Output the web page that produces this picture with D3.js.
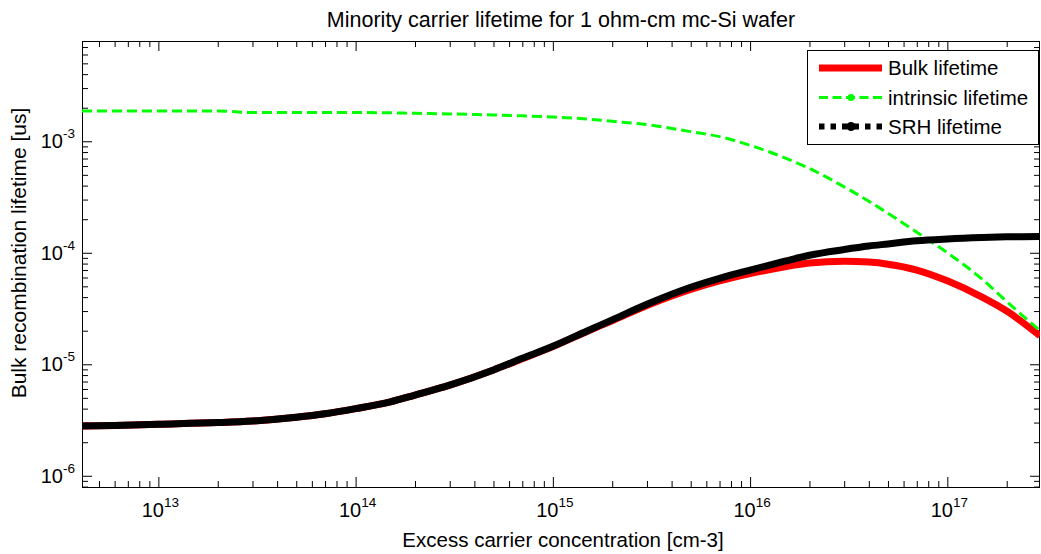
<!DOCTYPE html>
<html>
<head>
<meta charset="utf-8">
<script src="https://cdn.jsdelivr.net/npm/d3@7"></script>
<style>
body { margin: 0; background: #fff; }
svg text { font-family: "Liberation Sans", Arial, sans-serif; fill: #000; }
</style>
</head>
<body>
<svg id="chart" width="1041" height="554"></svg>
<script>
// excess carrier concentration [cm-3]
var carrierConc = [4.1e12, 6e12, 1e13, 2e13, 3e13, 5e13, 7e13, 1e14, 1.5e14, 2e14, 3e14, 5e14, 7e14,
    1e15, 1.5e15, 2e15, 3e15, 5e15, 7e15, 1e16, 1.5e16, 2e16, 3e16, 4e16, 5e16, 7e16, 1e17, 1.5e17, 2e17, 2.95e17]
// lifetimes [us]
var bulkLifetime = [2.8e-6, 2.83e-6, 2.9e-6, 3.0e-6, 3.1e-6, 3.35e-6, 3.6e-6, 4.0e-6, 4.6e-6, 5.3e-6, 6.5e-6, 8.9e-6, 1.12e-5,
    1.44e-5, 1.98e-5, 2.46e-5, 3.37e-5, 4.7e-5, 5.6e-5, 6.5e-5, 7.5e-5, 8.1e-5, 8.4e-5, 8.25e-5, 7.9e-5, 7.0e-5, 5.6e-5, 4.0e-5, 3.0e-5, 1.8e-5]
var intrinsicLifetime = [1.87e-3, 1.87e-3, 1.87e-3, 1.87e-3, 1.81e-3, 1.81e-3, 1.81e-3, 1.81e-3, 1.80e-3, 1.78e-3, 1.76e-3, 1.72e-3, 1.69e-3,
    1.65e-3, 1.58e-3, 1.51e-3, 1.41e-3, 1.22e-3, 1.1e-3, 9.2e-4, 7.1e-4, 5.7e-4, 3.9e-4, 2.9e-4, 2.26e-4, 1.53e-4, 1.0e-4, 5.8e-5, 3.65e-5, 2.0e-5]
var srhLifetime = [2.8e-6, 2.83e-6, 2.9e-6, 3.0e-6, 3.1e-6, 3.35e-6, 3.6e-6, 4.0e-6, 4.6e-6, 5.3e-6, 6.5e-6, 8.9e-6, 1.13e-5,
    1.45e-5, 2.0e-5, 2.5e-5, 3.45e-5, 4.9e-5, 5.9e-5, 7.0e-5, 8.4e-5, 9.5e-5, 1.07e-4, 1.15e-4, 1.2e-4, 1.28e-4, 1.33e-4, 1.37e-4, 1.39e-4, 1.4e-4]

var xMajor = [1e13, 1e14, 1e15, 1e16, 1e17]
var xExp = ['13', '14', '15', '16', '17']
var yMajor = [1e-6, 1e-5, 1e-4, 1e-3]
var yExp = ['-6', '-5', '-4', '-3']
var seriesNames = ['Bulk lifetime', 'intrinsic lifetime', 'SRH lifetime']

var W = 1041, H = 554
var margin = {'left': 82, 'right': 1, 'top': 41, 'bottom': 67}
var plotW = W - margin.left - margin.right
var plotH = H - margin.top - margin.bottom

var svg = d3.select('#chart')
var g = svg.append('g').attr('transform', 'translate(' + margin.left + ',' + margin.top + ')')

var xScale = d3.scaleLog().domain([4.1e12, 2.95e17]).range([0, plotW])
var yScale = d3.scaleLog().domain([7.93e-7, 7.93e-3]).range([plotH, 0])

// minor ticks: 2..9 times each decade, inside the domain
function minorTicks(scale) {
    var d = scale.domain(), out = []
    var lo = Math.floor(Math.log10(d[0])), hi = Math.ceil(Math.log10(d[1]))
    for (var e = lo; e <= hi; e++) {
        for (var m = 2; m <= 9; m++) {
            var v = m * Math.pow(10, e)
            if (v >= d[0] && v <= d[1]) out.push(v)
        }
    }
    return out
}

function addAxis(axis, transform) {
    var a = g.append('g').attr('transform', transform).call(axis)
    a.select('.domain').remove()
    a.selectAll('line').attr('stroke', '#000')
    a.selectAll('text').remove()
}

var xMinor = minorTicks(xScale), yMinor = minorTicks(yScale)
addAxis(d3.axisBottom(xScale).tickValues(xMajor).tickSizeInner(-10).tickSizeOuter(0), 'translate(0,' + plotH + ')')
addAxis(d3.axisBottom(xScale).tickValues(xMinor).tickSizeInner(-6).tickSizeOuter(0), 'translate(0,' + plotH + ')')
addAxis(d3.axisTop(xScale).tickValues(xMajor).tickSizeInner(-10).tickSizeOuter(0), 'translate(0,0)')
addAxis(d3.axisTop(xScale).tickValues(xMinor).tickSizeInner(-6).tickSizeOuter(0), 'translate(0,0)')
addAxis(d3.axisLeft(yScale).tickValues(yMajor).tickSizeInner(-10).tickSizeOuter(0), 'translate(0,0)')
addAxis(d3.axisLeft(yScale).tickValues(yMinor).tickSizeInner(-6).tickSizeOuter(0), 'translate(0,0)')
addAxis(d3.axisRight(yScale).tickValues(yMajor).tickSizeInner(-10).tickSizeOuter(0), 'translate(' + plotW + ',0)')
addAxis(d3.axisRight(yScale).tickValues(yMinor).tickSizeInner(-6).tickSizeOuter(0), 'translate(' + plotW + ',0)')

// box
g.append('rect')
    .attr('x', 0.5).attr('y', 0.5)
    .attr('width', plotW - 1).attr('height', plotH)
    .attr('fill', 'none').attr('stroke', '#000').attr('stroke-width', 1)

// tick labels 10^n
xMajor.forEach(function(v, i) {
    var t = g.append('text')
        .attr('x', xScale(v) + 2).attr('y', plotH + 30)
        .attr('text-anchor', 'middle').style('font-size', '20px')
    t.append('tspan').text('10')
    t.append('tspan').attr('dy', -10).style('font-size', '13.5px').text(xExp[i])
})
yMajor.forEach(function(v, i) {
    var t = g.append('text')
        .attr('x', -7).attr('y', yScale(v) + 7)
        .attr('text-anchor', 'end').style('font-size', '20px')
    t.append('tspan').text('10')
    t.append('tspan').attr('dy', -10).style('font-size', '13.5px').text(yExp[i])
})

// curves
var line = d3.line()
    .x(function(d) { return xScale(d[0]) })
    .y(function(d) { return yScale(d[1]) })
    .curve(d3.curveMonotoneX)

function pairs(ys) {
    return carrierConc.map(function(x, i) { return [x, ys[i]] })
}

var clip = g.append('clipPath').attr('id', 'plot-clip')
clip.append('rect').attr('width', plotW).attr('height', plotH)
var curves = g.append('g').attr('clip-path', 'url(#plot-clip)')

curves.append('path').datum(pairs(bulkLifetime))
    .attr('d', line).attr('fill', 'none')
    .attr('stroke', '#ff0000').attr('stroke-width', 7)
curves.append('path').datum(pairs(intrinsicLifetime))
    .attr('d', line).attr('fill', 'none')
    .attr('stroke', '#00ff00').attr('stroke-width', 3)
    .attr('stroke-dasharray', '10,5')
curves.append('path').datum(pairs(srhLifetime))
    .attr('d', line).attr('fill', 'none')
    .attr('stroke', '#000').attr('stroke-width', 7)

// legend
var leg = svg.append('g').attr('transform', 'translate(807,50)')
leg.append('rect').attr('x', 0.5).attr('y', 0.5).attr('width', 231).attr('height', 94)
    .attr('fill', '#fff').attr('stroke', '#000').attr('stroke-width', 1)
var rowY = [18, 47.5, 76.5]
leg.append('line').attr('x1', 12).attr('x2', 75).attr('y1', rowY[0]).attr('y2', rowY[0])
    .attr('stroke', '#ff0000').attr('stroke-width', 7)
leg.append('line').attr('x1', 12).attr('x2', 75).attr('y1', rowY[1]).attr('y2', rowY[1])
    .attr('stroke', '#00ff00').attr('stroke-width', 3).attr('stroke-dasharray', '9,4.5')
leg.append('circle').attr('cx', 44).attr('cy', rowY[1]).attr('r', 3.5).attr('fill', '#00ff00')
leg.append('line').attr('x1', 12).attr('x2', 75).attr('y1', rowY[2]).attr('y2', rowY[2])
    .attr('stroke', '#000').attr('stroke-width', 6).attr('stroke-dasharray', '5.5,6')
leg.append('circle').attr('cx', 44).attr('cy', rowY[2]).attr('r', 4.5).attr('fill', '#000')
seriesNames.forEach(function(name, i) {
    leg.append('text').attr('x', 81).attr('y', rowY[i] + 7)
        .style('font-size', '20.5px').text(name)
})

// titles
svg.append('text')
    .attr('x', margin.left + plotW / 2).attr('y', 27)
    .attr('text-anchor', 'middle').style('font-size', '21.5px')
    .text('Minority carrier lifetime for 1 ohm-cm mc-Si wafer')
svg.append('text')
    .attr('x', margin.left + plotW / 2 + 2).attr('y', 547)
    .attr('text-anchor', 'middle').style('font-size', '20.5px')
    .text('Excess carrier concentration [cm-3]')
svg.append('text')
    .attr('transform', 'translate(26,253) rotate(-90)')
    .attr('text-anchor', 'middle').style('font-size', '21px')
    .text('Bulk recombination lifetime [us]')
</script>
</body>
</html>
